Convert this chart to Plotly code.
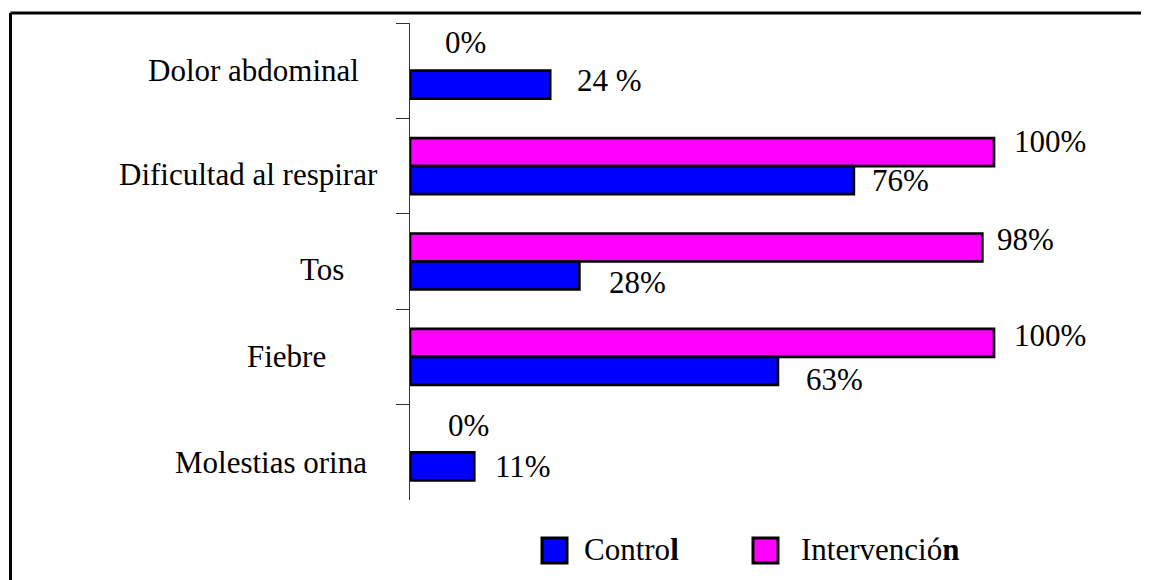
import plotly.graph_objects as go

# ---- data ----
categories = ["Dolor abdominal", "Dificultad al respirar", "Tos", "Fiebre", "Molestias orina"]
control = [24, 76, 29, 63, 11]
intervencion = [0, 100, 98, 100, 0]
control_labels = ["24 %", "76%", "28%", "63%", "11%"]
intervencion_labels = ["0%", "100%", "98%", "100%", "0%"]
series_names = ["Control", "Intervenció<b>n</b>"]
control_legend = "Contro<b>l</b>"

# ---- style / layout helpers ----
FONT = "Liberation Serif, Times New Roman, serif"
FS = 31
BLUE = "#0000FF"
MAGENTA = "#FF00FF"
OFF = 8  # default page body margin
W, H = 1141, 572
L, T, B = 402, 15, 80
PW = 730
R = W - L - PW
PH = H - T - B
BW = 2.7

def px(xp):  # page pixel x -> paper
    return (xp - OFF - L) / PW

def py(yp):  # page pixel y -> paper
    return (H - B - (yp - OFF)) / PH

# label offsets (pixels) relative to bar end / category centre
int_dx = [55, 56, 43, 56, 58]
int_dy = [28, 25, 22, 21, 27]
ctl_dx = [59, 47, 58, 57, 49]
ctl_dy = [-10, -14, -21, -23, -14]
cat_x = [253, 248, 322, 286, 271]
cat_dy = [0, -8, -8, 0, -10]

fig = go.Figure()
fig.add_trace(go.Bar(y=categories, x=intervencion, orientation="h", name="Intervención",
                     marker=dict(color=MAGENTA,
                                 line=dict(color="black", width=[BW if v else 0 for v in intervencion])),
                     hoverinfo="skip"))
fig.add_trace(go.Bar(y=categories, x=control, orientation="h", name="Control",
                     marker=dict(color=BLUE,
                                 line=dict(color="black", width=[BW if v else 0 for v in control])),
                     hoverinfo="skip"))

ann = []
for i, c in enumerate(categories):
    ann.append(dict(x=intervencion[i], y=c, xref="x", yref="y", text=intervencion_labels[i],
                    showarrow=False, xanchor="center", yanchor="middle",
                    xshift=int_dx[i], yshift=int_dy[i],
                    font=dict(family=FONT, size=FS, color="black")))
    ann.append(dict(x=control[i], y=c, xref="x", yref="y", text=control_labels[i],
                    showarrow=False, xanchor="center", yanchor="middle",
                    xshift=ctl_dx[i], yshift=ctl_dy[i],
                    font=dict(family=FONT, size=FS, color="black")))
    ann.append(dict(x=px(cat_x[i]), y=c, xref="paper", yref="y", text=c,
                    showarrow=False, xanchor="center", yanchor="middle", yshift=cat_dy[i],
                    font=dict(family=FONT, size=FS, color="black")))

# custom legend
legend_items = [(control_legend, BLUE, 542, 582), (series_names[1], MAGENTA, 753, 799)]
shapes = []
for txt, col, sx, tx in legend_items:
    shapes.append(dict(type="rect", xref="paper", yref="paper",
                       x0=px(sx), x1=px(sx + 25), y0=py(563), y1=py(538),
                       fillcolor=col, line=dict(color="black", width=3)))
    ann.append(dict(x=px(tx), y=py(549), xref="paper", yref="paper", text=txt,
                    showarrow=False, xanchor="left", yanchor="middle",
                    font=dict(family=FONT, size=FS, color="black")))

# outer frame (left and top edges visible)
shapes.append(dict(type="line", xref="paper", yref="paper", x0=px(10.5), x1=px(1170),
                   y0=py(13), y1=py(13), line=dict(color="black", width=3)))
shapes.append(dict(type="line", xref="paper", yref="paper", x0=px(10.5), x1=px(10.5),
                   y0=py(13), y1=py(600), line=dict(color="black", width=3)))

fig.update_layout(
    width=W, height=H,
    margin=dict(l=L, r=R, t=T, b=B),
    paper_bgcolor="white", plot_bgcolor="white",
    barmode="group", bargap=0.413, bargroupgap=0,
    showlegend=False,
    annotations=ann, shapes=shapes,
    xaxis=dict(range=[0, 125], visible=False, showgrid=False, zeroline=False),
    yaxis=dict(autorange="reversed", showticklabels=False, showgrid=False, zeroline=False,
               showline=True, linecolor="#333", linewidth=1,
               ticks="outside", ticklen=13, tickcolor="#333", tickwidth=1,
               tickson="boundaries"),
)

fig.write_html("out.html")
